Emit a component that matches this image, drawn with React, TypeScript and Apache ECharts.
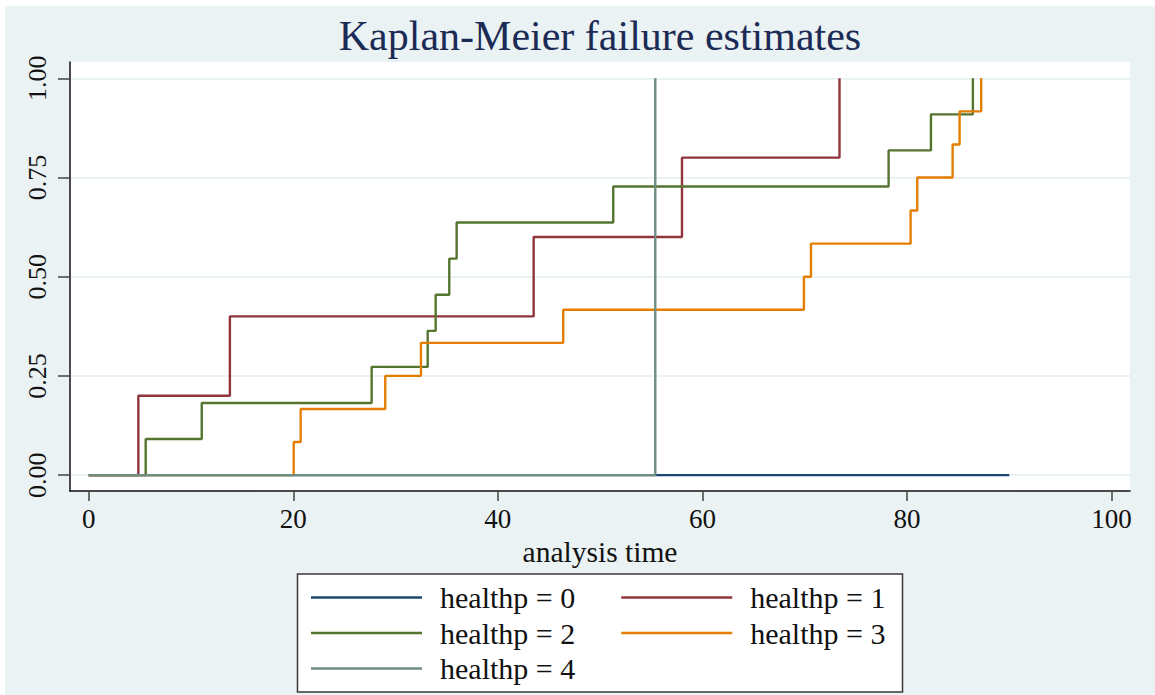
import React, { useEffect, useRef } from "react";
import * as echarts from "echarts";

// ---- data ----
const seriesNames = ["healthp = 0", "healthp = 1", "healthp = 2", "healthp = 3", "healthp = 4"];
const seriesColors = ["#1a476f", "#90353b", "#55752f", "#e37e00", "#6e8e84"];

const timeH0 = [0, 90.0];
const failH0 = [0, 0];

const timeH1 = [0, 4.85, 13.8, 43.5, 58.0, 73.4];
const failH1 = [0, 0.2, 0.4, 0.6, 0.8, 1.0];

const timeH2 = [0, 5.57, 11.05, 27.66, 33.14, 33.92, 35.25, 35.97, 51.28, 78.2, 82.34, 86.44];
const failH2 = [0, 0.0909, 0.1818, 0.2727, 0.3636, 0.4545, 0.5455, 0.6364, 0.7273, 0.8182, 0.9091, 1.0];

const timeH3 = [0, 20.04, 20.72, 28.99, 32.48, 46.39, 69.92, 70.61, 80.35, 81.0, 84.46, 85.14, 87.25];
const failH3 = [0, 0.0833, 0.1667, 0.25, 0.3333, 0.4167, 0.5, 0.5833, 0.6667, 0.75, 0.8333, 0.9167, 1.0];

const timeH4 = [0, 55.39];
const failH4 = [0, 1.0];

const xTicks = [0, 20, 40, 60, 80, 100];
const yTicks = [0, 0.25, 0.5, 0.75, 1];

const legendRows = [
  ["healthp = 0", "healthp = 1"],
  ["healthp = 2", "healthp = 3"],
  ["healthp = 4"],
];

const titleText = "Kaplan-Meier failure estimates";
const xAxisTitle = "analysis time";

const allTimes = [timeH0, timeH1, timeH2, timeH3, timeH4];
const allFails = [failH0, failH1, failH2, failH3, failH4];

const FONT = "'Liberation Serif', 'Times New Roman', serif";

function pairs(t: number[], f: number[]) {
  return t.map((x, i) => [x, f[i]]);
}

export default function App() {
  const ref = useRef<HTMLDivElement>(null);
  useEffect(() => {
    if (!ref.current) return;
    const chart = echarts.init(ref.current, null, { renderer: "svg" });
    const rowTops = [582.5, 618, 653.5];
    const option: any = {
      animation: false,
      backgroundColor: "#ffffff",
      graphic: [
        {
          type: "rect",
          z: -10,
          silent: true,
          shape: { x: 5, y: 6, width: 1150, height: 689 },
          style: { fill: "#EAF2F3" },
        },
        {
          type: "rect",
          z: 1,
          silent: true,
          shape: { x: 297.5, y: 574, width: 605, height: 118 },
          style: { fill: "#ffffff", stroke: "#3a3a3a", lineWidth: 1.5 },
        },
        {
          type: "text",
          z: 5,
          x: 600,
          y: 36,
          style: {
            text: titleText,
            font: `42px ${FONT}`,
            fill: "#1c2b56",
            textAlign: "center",
            textVerticalAlign: "middle",
          },
        },
      ],
      grid: {
        left: 70,
        top: 62,
        width: 1060,
        height: 429,
        show: true,
        backgroundColor: "#ffffff",
        borderWidth: 0,
      },
      xAxis: {
        type: "value",
        min: -1.83,
        max: 101.8,
        axisLine: { show: true, onZero: false, lineStyle: { color: "#111", width: 1.5 } },
        axisTick: { show: true, length: 10, customValues: xTicks, lineStyle: { color: "#444", width: 1.5 } },
        axisLabel: {
          customValues: xTicks,
          margin: 14,
          fontFamily: FONT,
          fontSize: 27,
          color: "#111",
        },
        splitLine: { show: false },
        name: xAxisTitle,
        nameLocation: "middle",
        nameGap: 37,
        nameTextStyle: { fontFamily: FONT, fontSize: 29.5, color: "#111" },
      },
      yAxis: {
        type: "value",
        min: -0.04,
        max: 1.041,
        axisLine: { show: true, onZero: false, lineStyle: { color: "#111", width: 1.5 } },
        axisTick: { show: true, length: 12, customValues: yTicks, lineStyle: { color: "#444", width: 1.5 } },
        axisLabel: {
          customValues: yTicks,
          rotate: 90,
          margin: 20,
          fontFamily: FONT,
          fontSize: 26,
          color: "#111",
          formatter: (v: number) => v.toFixed(2),
        },
        splitLine: { show: true, lineStyle: { color: "#EAF2F3", width: 2 } },
      },
      legend: legendRows.map((names, i) => ({
        data: names,
        left: 311,
        top: rowTops[i],
        orient: "horizontal",
        icon: "rect",
        itemWidth: 111,
        itemHeight: 2.4,
        itemGap: 46,
        padding: 0,
        selectedMode: false,
        z: 6,
        textStyle: {
          fontFamily: FONT,
          fontSize: 30,
          color: "#111",
          lineHeight: 30,
          padding: [0, 0, 0, 13],
        },
      })),
      series: seriesNames.map((name, i) => ({
        name,
        type: "line",
        step: "end",
        symbol: "none",
        showSymbol: false,
        data: pairs(allTimes[i], allFails[i]),
        lineStyle: { color: seriesColors[i], width: 2.4 },
        itemStyle: { color: seriesColors[i] },
      })),
    };
    chart.setOption(option);
    return () => chart.dispose();
  }, []);
  return (
    <div
      ref={ref}
      style={{ position: "absolute", left: 0, top: 0, width: 1155, height: 695 }}
    />
  );
}
